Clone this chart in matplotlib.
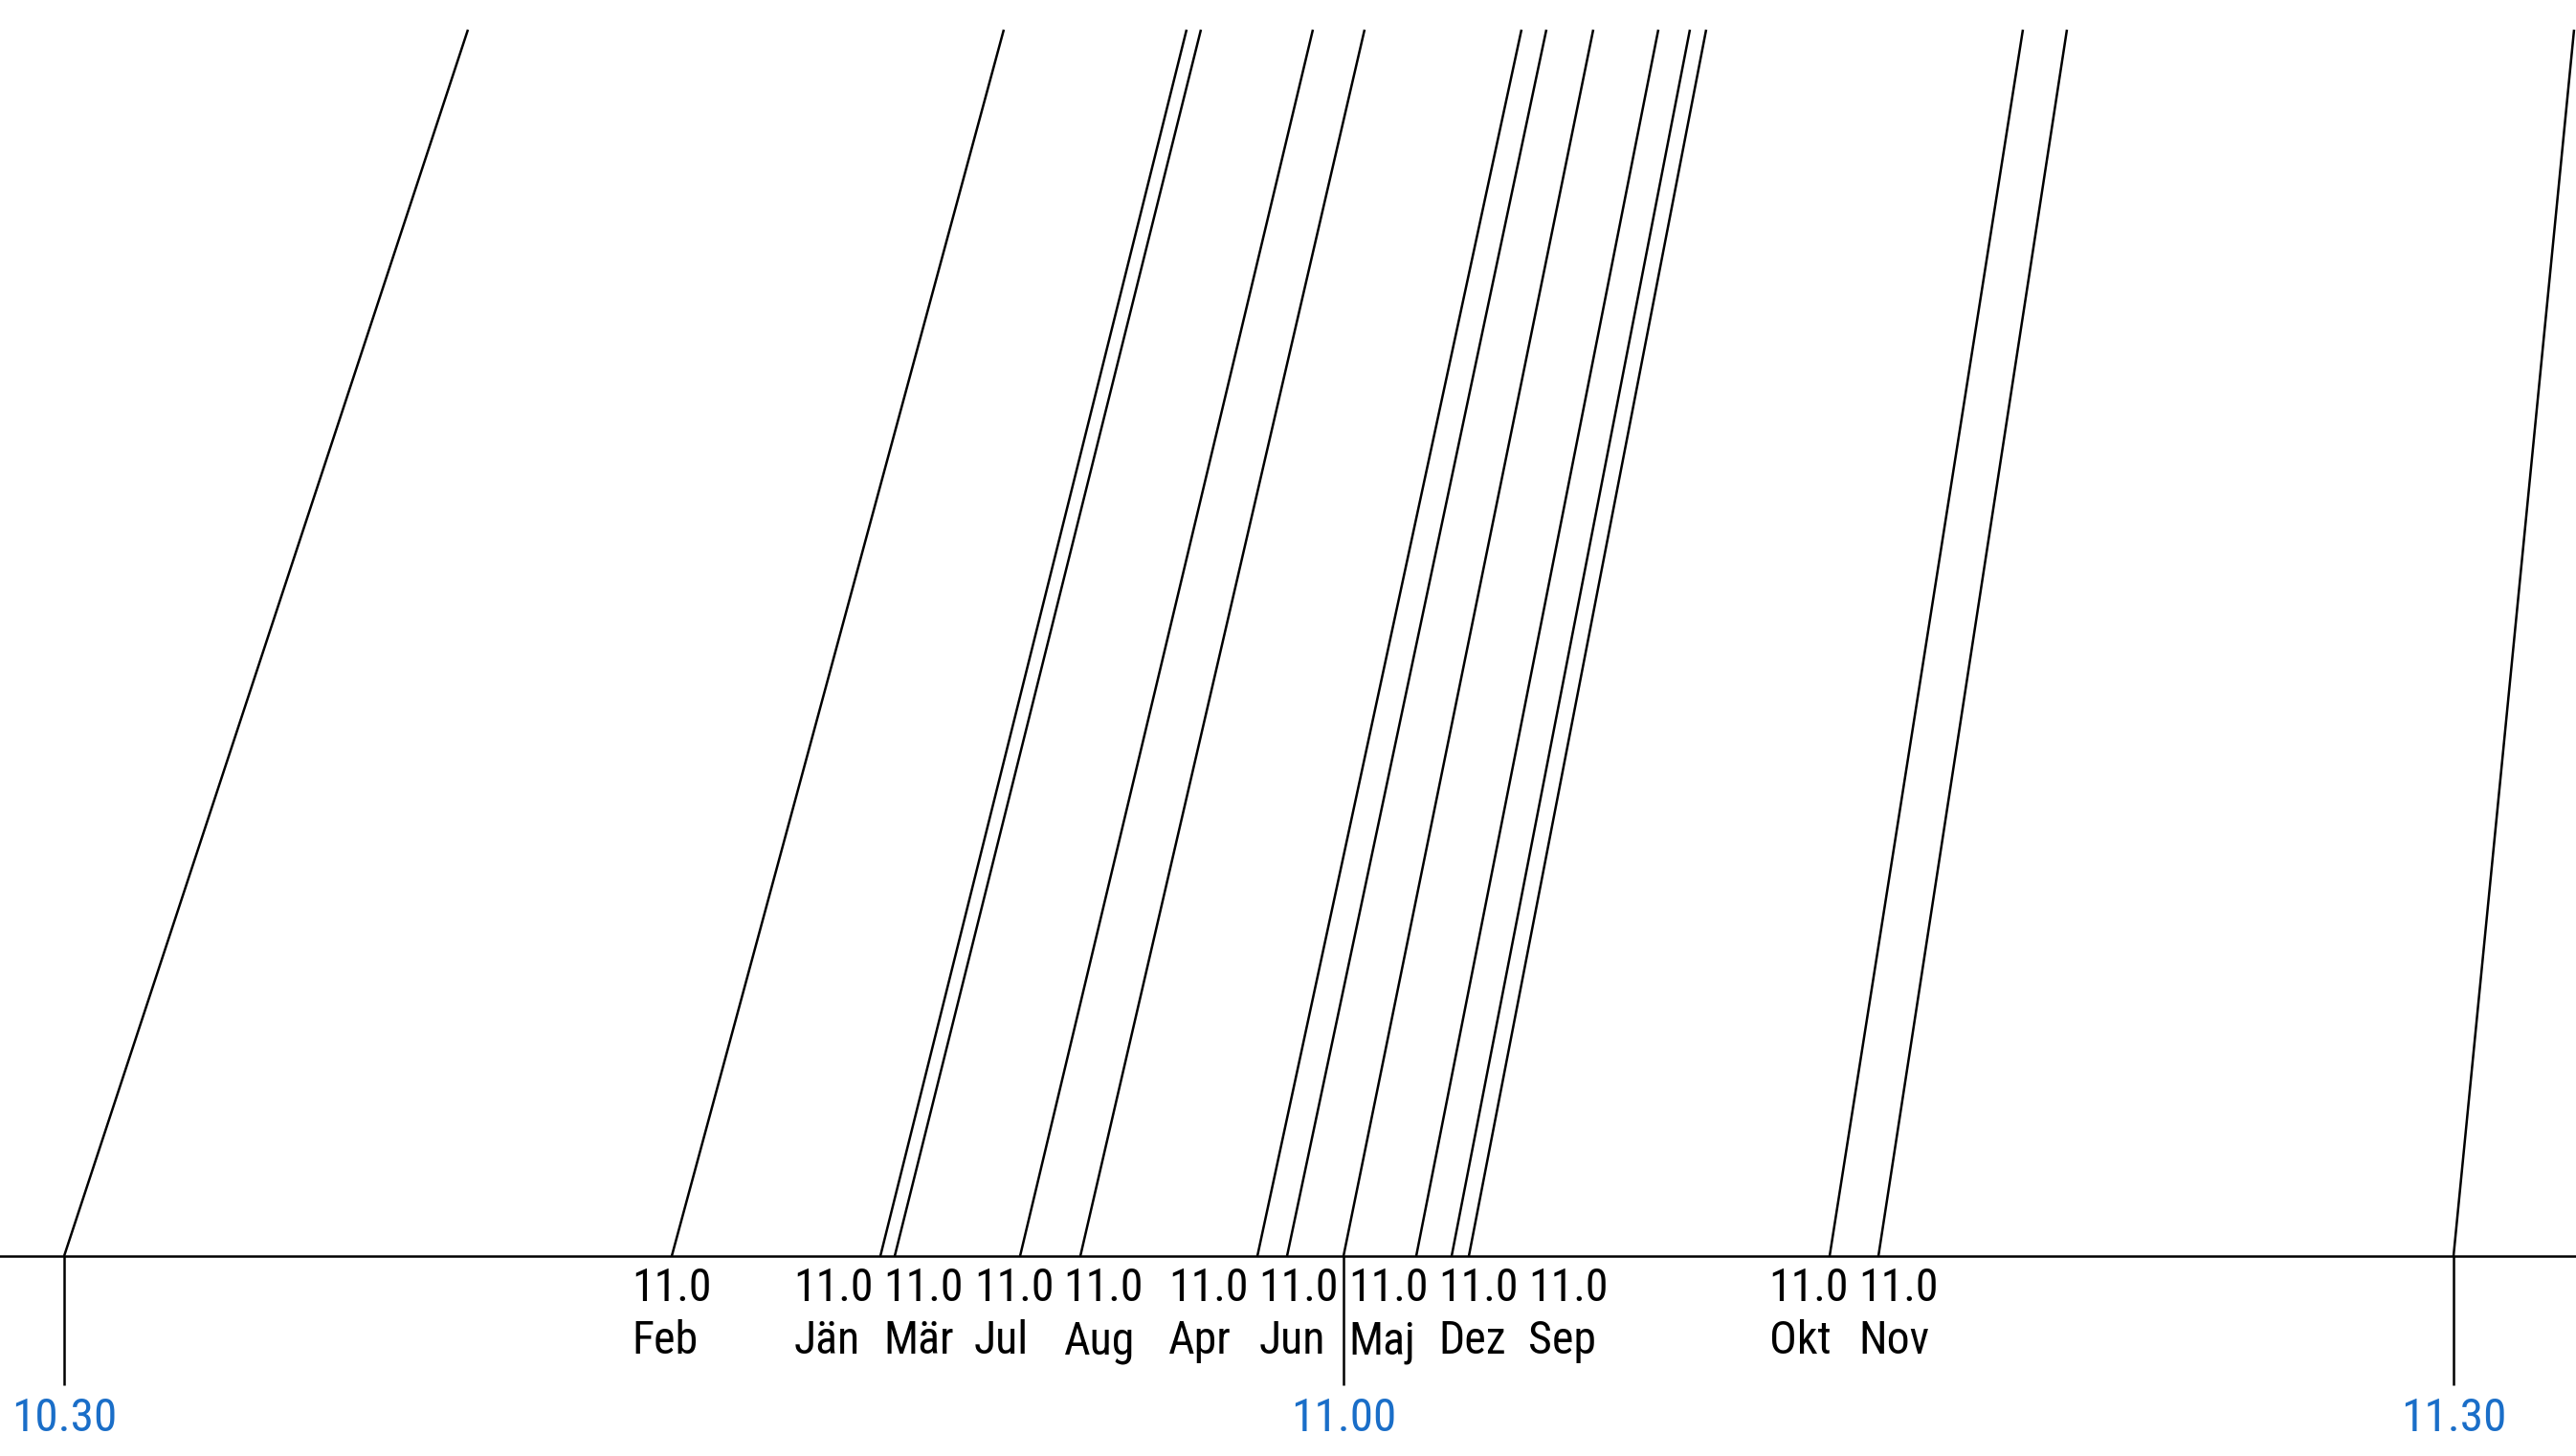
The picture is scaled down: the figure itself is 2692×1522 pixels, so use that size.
import matplotlib
matplotlib.use('Agg')
import matplotlib.pyplot as plt
from matplotlib import font_manager

# ---- data (x in drawing units relative to the 11.00 mark) ----
hours = ['10.30', '11.00', '11.30']
hour_bottom = [-133.7, 0.0, 116.0]
hour_top = [-91.5, 26.1, 128.6]

months = ['Feb', 'Jän', 'Mär', 'Jul', 'Aug', 'Apr', 'Jun', 'Maj', 'Dez', 'Sep', 'Okt', 'Nov']
month_value = ['11.0'] * 12
month_bottom = [-70.2, -48.4, -46.9, -33.8, -27.5, -9.0, -5.9, 7.6, 11.3, 13.1, 50.8, 55.9]
month_top = [-35.5, -16.4, -14.9, -3.2, 2.2, 18.6, 21.2, 32.9, 36.2, 37.9, 71.0, 75.6]
line_height = 128.2

# ---- style ----
names = {f.name for f in font_manager.fontManager.ttflist}
fam = ['Roboto Condensed', 'DejaVu Sans'] if 'Roboto Condensed' in names else ['DejaVu Sans']
BLUE = '#1a6ec8'
LW = 1.8
FS = 34.5

fig = plt.figure(figsize=(26.92, 15.22), dpi=100)
ax = fig.add_axes([0, 0, 1, 1])
ax.set_xlim(-140.4, 128.8)
ax.set_ylim(-20.9, 131.3)
ax.axis('off')

# baseline
ax.axhline(0, color='black', lw=LW)

# sloped lines
for b, t in zip(hour_bottom + month_bottom, hour_top + month_top):
    ax.plot([b, t], [0, line_height], color='black', lw=LW, solid_capstyle='butt')

# hour ticks and labels
for b, lab in zip(hour_bottom, hours):
    ax.plot([b, b], [0, -13.5], color='black', lw=LW, solid_capstyle='butt')
    ax.text(b, -18.3, lab, ha='center', va='baseline', fontsize=35.5, color=BLUE, family=fam)

renderer = fig.canvas.get_renderer()
inv = ax.transData.inverted()

# half width of a value label in data units
probe = ax.text(0, -4.7, month_value[0], ha='center', va='baseline', fontsize=FS, family=fam)
pb = probe.get_window_extent(renderer)
hw = (inv.transform((pb.x1, 0))[0] - inv.transform((pb.x0, 0))[0]) / 2
probe.remove()

# de-overlap month labels (cluster & center)
gap = 9.4
def cluster_pos(c):
    m = sum(month_bottom[k] for k in c) / len(c)
    return [m + (j - (len(c) - 1) / 2) * gap for j in range(len(c))]

order = sorted(range(len(months)), key=lambda i: month_bottom[i])
clusters = []
for i in order:
    clusters.append([i])
    while len(clusters) > 1:
        prev, cur = clusters[-2], clusters[-1]
        if cluster_pos(prev)[-1] + gap > cluster_pos(cur)[0]:
            clusters[-2] = prev + cur
            clusters.pop()
        else:
            break

label_x = {}
for c in clusters:
    pos = cluster_pos(c)
    # keep hour tick lines in the gaps between labels
    for h in hour_bottom:
        if any(p - hw - 0.3 < h < p + hw + 0.3 for p in pos):
            cands = [h - (pos[j] + pos[j + 1]) / 2 for j in range(len(pos) - 1)]
            cands += [h - hw - 0.8 - pos[-1], h + hw + 0.8 - pos[0]]
            d = min(cands, key=abs)
            pos = [p + d for p in pos]
    for k, p in zip(c, pos):
        label_x[k] = p

for k in range(len(months)):
    t = ax.text(label_x[k], -4.7, month_value[k], ha='center', va='baseline',
                fontsize=FS, color='black', family=fam)
    bb = t.get_window_extent(renderer)
    x0 = inv.transform((bb.x0, bb.y0))[0]
    ax.text(x0, -10.2, months[k], ha='left', va='baseline',
            fontsize=FS, color='black', family=fam)

fig.savefig('out.png', dpi=100, facecolor='white')
